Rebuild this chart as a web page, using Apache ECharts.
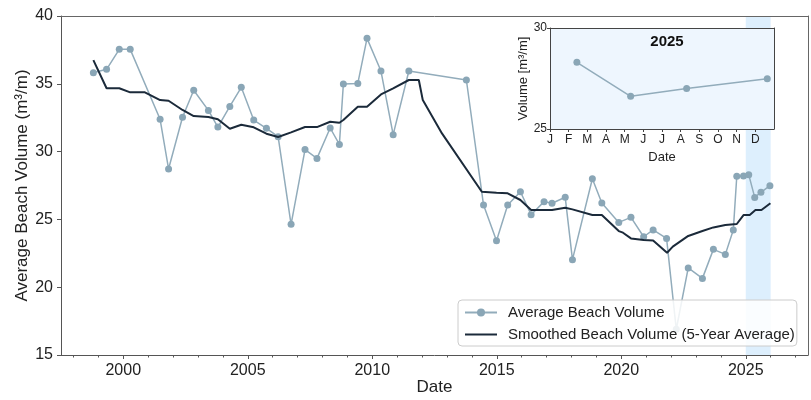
<!DOCTYPE html>
<html><head><meta charset="utf-8">
<script src="https://cdn.jsdelivr.net/npm/echarts@6/dist/echarts.min.js"></script>
<style>html,body{margin:0;padding:0;background:#fff}#c{width:811px;height:400px}</style>
</head><body><div id="c"></div>
<script>
// Observed beach volume (decimal year, m³/m)
const obsYears = [1998.8,1999.33,1999.84,2000.28,2001.48,2001.82,2002.38,2002.83,2003.42,2003.8,2004.28,2004.74,2005.24,2005.75,2006.22,2006.74,2007.3,2007.78,2008.31,2008.68,2008.84,2009.42,2009.79,2010.35,2010.84,2011.47,2013.78,2014.47,2014.99,2015.44,2015.95,2016.38,2016.9,2017.22,2017.75,2018.04,2018.84,2019.22,2019.9,2020.39,2020.9,2021.28,2021.82,2022.21,2022.69,2023.26,2023.7,2024.18,2024.5,2024.64,2024.91,2025.12,2025.36,2025.61,2025.97];
const obsValues = [35.82,36.07,37.54,37.54,32.38,28.72,32.53,34.52,33.04,31.81,33.33,34.74,32.33,31.72,31.1,24.64,30.15,29.5,31.74,30.53,34.98,35.03,38.35,35.94,31.25,35.94,35.28,26.06,23.43,26.06,27.04,25.35,26.31,26.19,26.63,22.03,28.0,26.21,24.78,25.15,23.72,24.22,23.6,16.9,21.42,20.65,22.79,22.42,24.22,28.18,28.2,28.3,26.62,27.0,27.49];
// Smoothed (5-year average)
const smYears = [1998.8,1999.33,1999.84,2000.28,2000.87,2001.48,2001.82,2002.38,2002.83,2003.42,2003.8,2004.28,2004.74,2005.24,2005.75,2006.22,2006.74,2007.3,2007.78,2008.31,2008.68,2008.84,2009.42,2009.79,2010.35,2010.84,2011.47,2011.87,2012.03,2012.8,2014.4,2014.99,2015.44,2015.95,2016.38,2016.9,2017.22,2017.75,2018.04,2018.84,2019.22,2019.9,2020.07,2020.39,2020.9,2021.28,2021.84,2022.07,2022.69,2023.26,2023.7,2024.18,2024.64,2024.91,2025.16,2025.39,2025.63,2025.99];
const smValues = [36.75,34.67,34.67,34.37,34.37,33.8,33.75,33.07,32.62,32.55,32.38,31.69,31.98,31.79,31.32,31.08,31.42,31.81,31.81,32.2,32.13,32.33,33.31,33.31,34.22,34.67,35.28,35.28,33.8,31.34,27.04,26.97,26.92,26.43,25.69,25.69,25.69,25.86,25.74,25.32,25.32,24.14,24.02,23.6,23.48,23.45,22.54,22.99,23.78,24.14,24.41,24.59,24.66,25.32,25.32,25.69,25.69,26.19];
const majorYears = [2000,2005,2010,2015,2020,2025];
const minorYears = [1998,1999,2001,2002,2003,2004,2006,2007,2008,2009,2011,2012,2013,2014,2016,2017,2018,2019,2021,2022,2023,2024,2026,2027];
const yTicks = [15,20,25,30,35,40];
const highlightYear = 2025;
const monthLabels = ['J','F','M','A','M','J','J','A','S','O','N','D'];
const insetYTicks = [25,30];

const obsData = obsYears.map((y,i)=>[y,obsValues[i]]);
const smData = smYears.map((y,i)=>[y,smValues[i]]);
const insetData = obsYears.map((y,i)=>[y,obsValues[i]]).filter(d=>d[0]>=highlightYear && d[0]<highlightYear+1).map(d=>[(d[0]-highlightYear)*12,d[1]]);
const monthTicks = monthLabels.map((m,i)=>i);

const FONT = 'Liberation Sans, Arial, sans-serif';
const lineOnly = (gi,pos,min,max,color)=>({type:'value',gridIndex:gi,position:pos,min:min,max:max,z:20,
  splitLine:{show:false},axisLine:{show:true,onZero:false,lineStyle:{color:color}},axisTick:{show:false},axisLabel:{show:false}});
const chart = echarts.init(document.getElementById('c'));
chart.setOption({
  animation:false,
  textStyle:{fontFamily:FONT},
  grid:[
    {left:61,right:3,top:16,bottom:45,show:false,outerBoundsMode:'none',containLabel:false},
    {left:550,width:224,top:28,height:101,show:false,outerBoundsMode:'none',containLabel:false}
  ],
  xAxis:[
    {type:'value',gridIndex:0,min:1997.5,max:2027.5,splitLine:{show:false},z:20,
     axisLine:{onZero:false,lineStyle:{color:'#555'}},
     axisTick:{customValues:majorYears,length:4,lineStyle:{color:'#555'}},
     axisLabel:{customValues:majorYears,formatter:v=>String(v),fontSize:16,color:'#222',margin:8,fontFamily:FONT},
     name:'Date',nameLocation:'middle',nameGap:24,nameMoveOverlap:false,nameTextStyle:{fontSize:17,color:'#222',fontFamily:FONT}},
    {type:'value',gridIndex:0,min:1997.5,max:2027.5,position:'bottom',splitLine:{show:false},z:20,
     axisLine:{show:false},
     axisTick:{customValues:minorYears,length:2.5,lineStyle:{color:'#555'}},
     axisLabel:{show:false}},
    lineOnly(0,'top',1997.5,2027.5,'#666'),
    {type:'value',gridIndex:1,min:0,max:12,splitLine:{show:false},z:20,
     axisLine:{onZero:false,lineStyle:{color:'#444'}},
     axisTick:{customValues:monthTicks,length:3,lineStyle:{color:'#444'}},
     axisLabel:{customValues:monthTicks,formatter:v=>monthLabels[Math.round(v)]||'',fontSize:12,color:'#222',margin:5,fontFamily:FONT},
     name:'Date',nameLocation:'middle',nameGap:22,nameTextStyle:{fontSize:13,color:'#222',fontFamily:FONT}},
    lineOnly(1,'top',0,12,'#444')
  ],
  yAxis:[
    {type:'value',gridIndex:0,min:15,max:40,interval:5,splitLine:{show:false},z:20,
     axisLine:{show:true,onZero:false,lineStyle:{color:'#555'}},
     axisTick:{show:true,length:4,lineStyle:{color:'#555'}},
     axisLabel:{formatter:v=>String(v),fontSize:16,color:'#222',margin:8,fontFamily:FONT},
     name:'Average Beach Volume (m³/m)',nameLocation:'middle',nameGap:30,nameMoveOverlap:false,nameTextStyle:{fontSize:17,color:'#222',fontFamily:FONT}},
    lineOnly(0,'right',15,40,'#666'),
    {type:'value',gridIndex:1,min:25,max:30,interval:5,splitLine:{show:false},z:20,
     axisLine:{show:true,onZero:false,lineStyle:{color:'#444'}},
     axisTick:{show:true,length:3,lineStyle:{color:'#444'}},
     axisLabel:{fontSize:12,color:'#222',margin:3,fontFamily:FONT},
     name:'Volume [m³/m]',nameLocation:'middle',nameGap:20,nameTextStyle:{fontSize:13,color:'#222',fontFamily:FONT}},
    lineOnly(1,'right',25,30,'#444')
  ],
  title:{text:String(highlightYear),left:662,top:29,textAlign:'center',textStyle:{fontSize:15,fontWeight:'bold',color:'#111',fontFamily:FONT},z:25},
  legend:{
    orient:'vertical',left:458,top:300,padding:[5,2,4,6],itemGap:7,
    itemWidth:32,itemHeight:10,z:25,
    backgroundColor:'rgba(255,255,255,0.85)',borderColor:'#cccccc',borderWidth:1,borderRadius:4,
    textStyle:{fontSize:15,color:'#222',fontFamily:FONT,padding:[0,0,0,6]},
    data:[{name:'Average Beach Volume'},{name:'Smoothed Beach Volume (5-Year Average)',itemStyle:{opacity:0}}]
  },
  series:[
    {name:'Average Beach Volume',type:'line',xAxisIndex:0,yAxisIndex:0,data:obsData,
     symbol:'circle',symbolSize:7,itemStyle:{color:'#8aa6b6'},lineStyle:{color:'#92acbb',width:1.5},z:3,
     markArea:{silent:true,itemStyle:{color:'#ddeffd'},data:[[{xAxis:highlightYear},{xAxis:highlightYear+1}]]}},
    {name:'Smoothed Beach Volume (5-Year Average)',type:'line',xAxisIndex:0,yAxisIndex:0,data:smData,
     symbol:'none',lineStyle:{color:'#1b2a3a',width:2},itemStyle:{color:'#1b2a3a'},z:4},
    {name:'inset',type:'line',xAxisIndex:3,yAxisIndex:2,data:insetData,
     symbol:'circle',symbolSize:7,itemStyle:{color:'#8aa6b6'},lineStyle:{color:'#92acbb',width:1.5},z:12,
     markArea:{silent:true,itemStyle:{color:'#eef6fe'},data:[[{xAxis:0,yAxis:insetYTicks[0]},{xAxis:12,yAxis:insetYTicks[1]}]]}}
  ]
});
</script></body></html>
